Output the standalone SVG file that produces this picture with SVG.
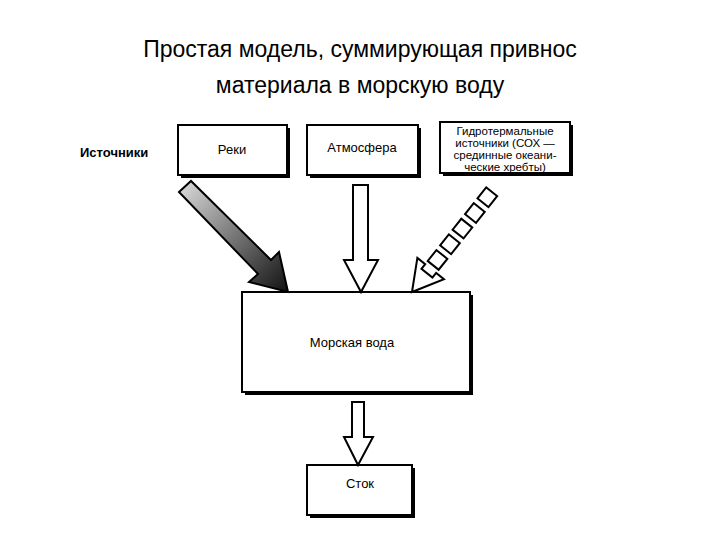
<svg xmlns="http://www.w3.org/2000/svg" width="720" height="540" viewBox="0 0 720 540">
<style>
.t{font-family:"Liberation Sans",Arial,sans-serif;fill:#000}
.title{font-size:23px}
.lab{font-size:13px}
.box{fill:#fff;stroke:#000;stroke-width:2}
.sh{fill:#000}
.arr{fill:#fff;stroke:#000;stroke-width:2;stroke-linejoin:miter}
</style>
<defs>
<linearGradient id="g" x1="0" y1="0" x2="1" y2="1">
<stop offset="0" stop-color="#ddd"/><stop offset="1" stop-color="#111"/>
</linearGradient>
</defs>
<rect width="720" height="540" fill="#fff"/>
<text class="t title" x="360" y="57" text-anchor="middle">Простая модель, суммирующая привнос</text>
<text class="t title" x="360" y="93" text-anchor="middle">материала в морскую воду</text>
<text class="t lab" x="80" y="157" font-weight="bold">Источники</text>
<g id="reki"><rect class="sh" x="181" y="128" width="109" height="50"/><rect class="box" x="178" y="125" width="109" height="50"/><text class="t lab" x="232" y="154" text-anchor="middle">Реки</text></g>
<g id="atm"><rect class="sh" x="310" y="128" width="111" height="50"/><rect class="box" x="307" y="125" width="111" height="50"/><text class="t lab" x="362" y="152" text-anchor="middle">Атмосфера</text></g>
<g id="hydro"><rect class="sh" x="443" y="125" width="130" height="51"/><rect class="box" x="440" y="122" width="130" height="51"/>
<text class="t" font-size="11.5" text-anchor="middle"><tspan x="505" y="135">Гидротермальные</tspan><tspan x="505" y="147">источники (СОХ —</tspan><tspan x="505" y="159">срединные океани-</tspan><tspan x="505" y="171">ческие хребты)</tspan></text></g>
<g id="sea"><rect class="sh" x="245" y="295" width="228" height="100"/><rect class="box" x="242" y="292" width="228" height="100"/><text class="t lab" x="352" y="347" text-anchor="middle">Морская вода</text></g>
<g id="stok"><rect class="sh" x="310" y="468" width="105" height="50"/><rect class="box" x="307" y="465" width="105" height="50"/><text class="t lab" x="360" y="488" text-anchor="middle">Сток</text></g>
<g id="connectors">
<polygon points="179,192 191,181 271,260 279,252 288,292 249,282 258,274" fill="url(#g)" stroke="#000" stroke-width="2"/>
<polygon class="arr" points="353,185 368,185 368,260 378,260 361,292 344,260 353,260"/>
<g class="arr" transform="translate(412,292) rotate(128.5)">
<polygon points="0,0 -30,-17 -30,-7 -24,-7 -24,7 -30,7 -30,17"/>
<rect x="-48" y="-7" width="14" height="14"/>
<rect x="-68" y="-7" width="14" height="14"/>
<rect x="-88" y="-7" width="14" height="14"/>
<rect x="-108" y="-7" width="14" height="14"/>
<rect x="-128" y="-7" width="14" height="14"/>
</g>
<polygon class="arr" points="352,402 364,402 364,437 373,437 358,465 344,437 352,437"/>
</g>
</svg>
